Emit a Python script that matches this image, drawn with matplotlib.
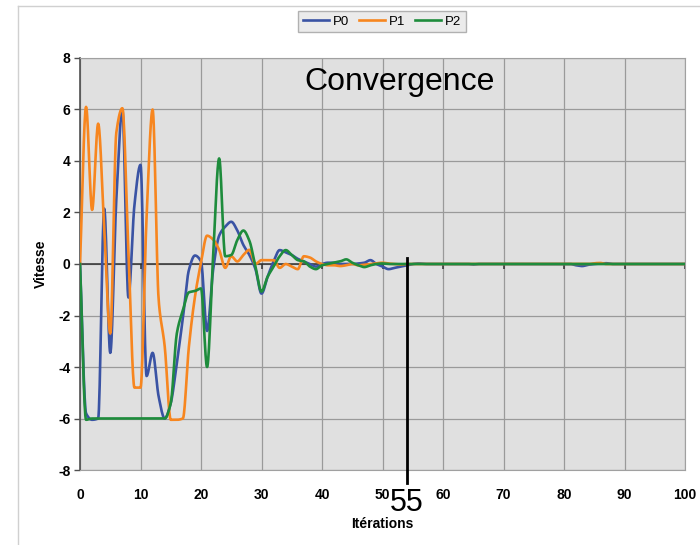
import numpy as np
import matplotlib
matplotlib.use("Agg")
import matplotlib.pyplot as plt
from matplotlib.lines import Line2D

plt.rcParams['font.family'] = ['Liberation Sans', 'DejaVu Sans']
plt.rcParams['axes.unicode_minus'] = False

iterations = list(range(0, 101))

p0 = [0, -5.8, -6.05, -6.0, 2.15, -3.45, 2.5, 6.0, -1.3, 2.3,
      3.85, -4.35, -3.45, -5.15, -6.0, -5.4, -3.85, -2.1, -0.23, 0.33,
      0.1, -2.6, -0.23, 1.1, 1.45, 1.64, 1.3, 0.74, 0.35, -0.2,
      -1.15, -0.5, 0.1, 0.54, 0.45, 0.35, 0.2, 0.1, 0.0, -0.1,
      0.0, 0.05, 0.05, 0.0, 0.0, 0.0, 0.02, 0.05, 0.15, 0.0,
      -0.1, -0.2, -0.15, -0.1, -0.05, 0.0, 0.02, 0.0, 0.0, 0.0,
      0.0, 0.0, 0.0, 0.0, 0.0, -0.02, 0.0, 0.0, 0.0, 0.0,
      0.0, 0.0, 0.0, 0.0, 0.0, 0.0, 0.0, 0.0, 0.0, 0.0,
      0.0, 0.0, -0.05, -0.08, -0.03, 0.0, 0.02, 0.03, 0.0, 0.0,
      0.0, 0.0, 0.0, 0.0, 0.0, 0.0, 0.0, 0.0, 0.0, 0.0, 0.0]

p1 = [0, 6.1, 2.1, 5.45, 1.4, -2.7, 5.1, 6.05, 0.5, -4.8,
      -4.8, 1.8, 6.0, -1.4, -3.2, -6.05, -6.05, -6.0, -3.2, -1.27,
      0.05, 1.1, 0.95, 0.55, -0.15, 0.3, 0.1, 0.35, 0.55, 0.0,
      0.15, 0.15, 0.15, -0.15, 0.0, -0.1, -0.2, 0.3, 0.25, 0.1,
      0.0, -0.05, -0.05, -0.08, -0.05, 0.0, -0.05, -0.03, 0.0, 0.03,
      0.05, 0.02, 0.0, -0.02, 0.0, 0.0, 0.0, 0.0, 0.0, 0.0,
      0.0, 0.0, 0.0, 0.0, 0.0, 0.0, 0.0, 0.0, 0.0, 0.0,
      0.0, 0.0, 0.0, 0.0, 0.0, 0.0, 0.0, 0.0, 0.0, 0.0,
      0.0, 0.0, 0.0, 0.0, 0.0, 0.03, 0.04, 0.0, 0.0, 0.0,
      0.0, 0.0, 0.0, 0.0, 0.0, 0.0, 0.0, 0.0, 0.0, 0.0, 0.0]

p2 = [0, -6.05, -6.0, -6.0, -6.0, -6.0, -6.0, -6.0, -6.0, -6.0,
      -6.0, -6.0, -6.0, -6.0, -6.0, -5.4, -2.7, -1.8, -1.1, -1.05,
      -0.95, -4.0, 0.3, 4.1, 0.3, 0.35, 0.93, 1.3, 0.9, -0.1,
      -1.07, -0.5, -0.1, 0.3, 0.54, 0.35, 0.15, 0.1, -0.1, -0.2,
      -0.05, 0.0, 0.05, 0.1, 0.18, 0.05, -0.05, -0.12, -0.05, 0.0,
      0.02, 0.0, 0.0, 0.0, 0.0, 0.0, 0.0, 0.0, 0.0, 0.0,
      0.0, 0.0, 0.0, 0.0, 0.0, 0.0, 0.0, 0.0, 0.0, 0.0,
      0.0, 0.0, 0.0, 0.0, 0.0, 0.0, 0.0, 0.0, 0.0, 0.0,
      0.0, 0.0, 0.0, 0.0, 0.0, 0.0, 0.0, 0.0, 0.0, 0.0,
      0.0, 0.0, 0.0, 0.0, 0.0, 0.0, 0.0, 0.0, 0.0, 0.0, 0.0]

series = [("P0", p0, "#3a53a4"), ("P1", p1, "#f7861f"), ("P2", p2, "#1e8c3c")]
marker_iter = 55   # 55th point -> index 54 on the category axis


def smooth(x, y, n=16):
    # smoothed line with monotone (pchip-like) tangents, no big overshoot
    x = np.asarray(x, float)
    y = np.asarray(y, float)
    h = np.diff(x)
    d = np.diff(y) / h
    m = np.zeros_like(y)
    for i in range(1, len(y) - 1):
        if d[i - 1] * d[i] > 0:
            m[i] = 2 / (1 / d[i - 1] + 1 / d[i])
    m[0], m[-1] = d[0], d[-1]
    t = np.linspace(0, 1, n, endpoint=False)
    xs, ys = [], []
    for i in range(len(y) - 1):
        h00 = 2 * t**3 - 3 * t**2 + 1
        h10 = t**3 - 2 * t**2 + t
        h01 = -2 * t**3 + 3 * t**2
        h11 = t**3 - t**2
        xs.append(x[i] + t * h[i])
        ys.append(h00 * y[i] + h10 * h[i] * m[i] + h01 * y[i + 1] + h11 * h[i] * m[i + 1])
    xs.append([x[-1]])
    ys.append([y[-1]])
    return np.concatenate(xs), np.concatenate(ys)


fig = plt.figure(figsize=(7, 5.45), dpi=100)
ax = fig.add_axes([0.1143, 0.1376, 0.8643, 0.7560])
ax.set_facecolor("#e0e0e0")

for name, vals, col in series:
    sx, sy = smooth(iterations, vals)
    ax.plot(sx, sy, color=col, lw=1.9, label=name, zorder=3)

ax.set_xlim(0, 100)
ax.set_ylim(-8, 8)
ax.set_xticks(range(0, 101, 10))
ax.set_yticks(range(-8, 9, 2))
ax.grid(True, color="#9a9a9a", lw=0.9)
ax.set_axisbelow(True)
ax.axhline(0, color="#303030", lw=1.1, zorder=2)
ax.vlines(range(10, 101, 10), -0.18, 0, color="#303030", lw=1.1, zorder=2)

for s in ["top", "right", "bottom"]:
    ax.spines[s].set_color("#a0a0a0")
ax.spines["left"].set_color("#505050")
ax.spines["left"].set_linewidth(1.2)

ax.tick_params(axis="x", length=0, pad=13, labelsize=10)
ax.tick_params(axis="y", length=4, width=1, color="#505050", pad=3, labelsize=10)
for lab in ax.get_xticklabels() + ax.get_yticklabels():
    lab.set_fontweight("bold")

ax.set_xlabel("Itérations", fontsize=10, fontweight="bold", labelpad=11)
ax.set_ylabel("Vitesse", fontsize=10, fontweight="bold", labelpad=7)

ax.text(52.9, 7.05, "Convergence", fontsize=23, ha="center", va="center")

mx = marker_iter - 1
ax.plot([mx, mx], [0.25, -8.5], color="black", lw=2, clip_on=False, zorder=4)
ax.text(mx, -9.3, str(marker_iter), fontsize=22, ha="center", va="center")

leg = fig.legend(loc="center", bbox_to_anchor=(382 / 700, 1 - 21.5 / 545), ncol=3,
                 fontsize=9.5, frameon=True, fancybox=False, handlelength=2.0,
                 handletextpad=0.3, columnspacing=0.7, borderpad=0.35)
leg.get_frame().set_facecolor("#e6e6e6")
leg.get_frame().set_edgecolor("#a0a0a0")

# outer chart frame
fig.add_artist(Line2D([18 / 700, 18 / 700], [0, 1 - 6 / 545], color="#d0d0d0", lw=1))
fig.add_artist(Line2D([18 / 700, 1], [1 - 6 / 545, 1 - 6 / 545], color="#d0d0d0", lw=1))

fig.savefig("out.png", dpi=100)
